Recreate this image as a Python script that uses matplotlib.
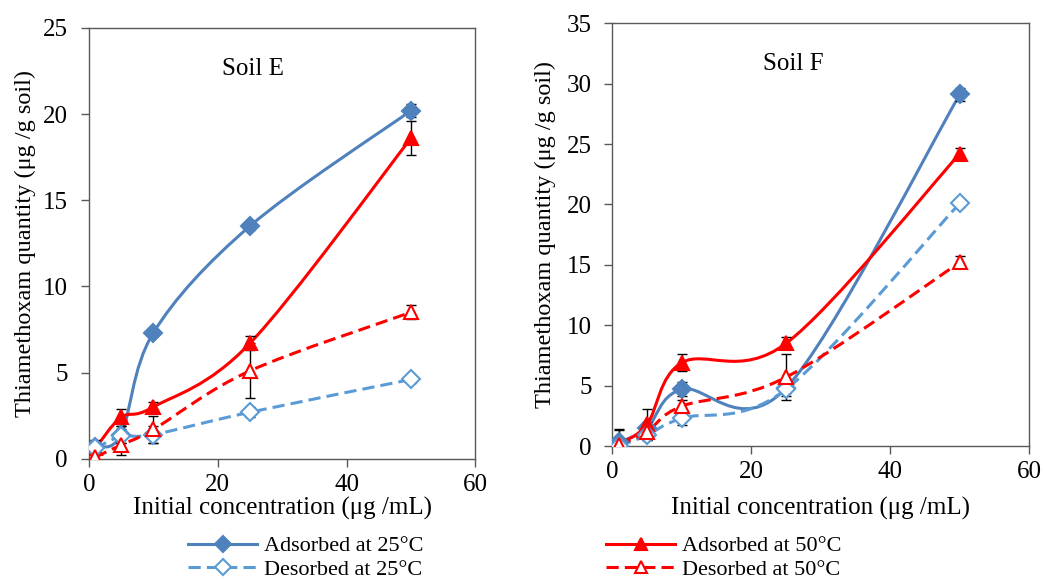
import numpy as np
import matplotlib
matplotlib.use("Agg")
import matplotlib.pyplot as plt
from matplotlib.path import Path
from matplotlib.patches import PathPatch
from matplotlib.lines import Line2D

plt.rcParams['font.family'] = ['Liberation Serif', 'DejaVu Serif']

# ---------------- data ----------------
conc = [1, 5, 10, 25, 50]

# Soil E
e_ads25 = [0.7, 1.4, 7.3, 13.5, 20.2]
e_ads25_err = [0.4, 0.5, 0.15, 0.2, 0.4]
e_ads50 = [0.6, 2.4, 3.0, 6.7, 18.6]
e_ads50_err = [0.4, 0.5, 0.3, 0.4, 1.0]
e_des25 = [0.6, 1.3, 1.4, 2.7, 4.6]
e_des25_err = [0.3, 0.4, 0.5, 0.3, 0.2]
e_des50 = [0.1, 0.8, 1.7, 5.1, 8.5]
e_des50_err = [0.3, 0.6, 0.8, 1.6, 0.4]

# Soil F
f_ads25 = [0.3, 1.5, 4.7, 4.8, 29.1]
f_ads25_err = [1.0, 0.5, 0.6, 0.4, 0.5]
f_ads50 = [0.2, 1.8, 6.9, 8.5, 24.2]
f_ads50_err = [1.2, 1.3, 0.7, 0.5, 0.5]
f_des25 = [0.0, 0.9, 2.3, 4.7, 20.1]
f_des25_err = [0.5, 0.4, 0.6, 0.6, 0.3]
f_des50 = [0.1, 1.2, 3.3, 5.7, 15.2]
f_des50_err = [0.3, 0.5, 0.5, 1.9, 0.5]

labels = ["Adsorbed at 25°C", "Desorbed at 25°C", "Adsorbed at 50°C", "Desorbed at 50°C"]
xticks = [0, 20, 40, 60]

BLUE = '#4F81BD'
BLUE2 = '#5B9BD5'
RED = '#FF0000'
SPINE = '#595959'


def smooth_path(x, y):
    x = np.asarray(x, float)
    y = np.asarray(y, float)
    n = len(x)
    verts = [(x[0], y[0])]
    codes = [Path.MOVETO]
    for i in range(n - 1):
        p0 = np.array([x[max(i - 1, 0)], y[max(i - 1, 0)]])
        p1 = np.array([x[i], y[i]])
        p2 = np.array([x[i + 1], y[i + 1]])
        p3 = np.array([x[min(i + 2, n - 1)], y[min(i + 2, n - 1)]])
        c1 = p1 + (p2 - p0) / 6.0
        c2 = p2 - (p3 - p1) / 6.0
        verts += [tuple(c1), tuple(c2), tuple(p2)]
        codes += [Path.CURVE4] * 3
    return Path(verts, codes)


def series(ax, x, y, err, color, marker, filled, dashed):
    ls = (0, (4, 2)) if dashed else '-'
    patch = PathPatch(smooth_path(x, y), facecolor='none', edgecolor=color,
                      lw=2.2, linestyle=ls, zorder=2)
    ax.add_patch(patch)
    ax.errorbar(x, y, yerr=err, fmt='none', ecolor='black', elinewidth=1.0,
                capsize=3.6, capthick=1.0, zorder=3)
    ms = 9 if marker == 'D' else 10
    ax.plot(x, y, linestyle='none', marker=marker, markersize=ms,
            markerfacecolor=color if filled else 'white',
            markeredgecolor=color, markeredgewidth=1.5, zorder=4)


def style(ax, ymax, ystep, xlab_y):
    ax.set_xlim(0, 60)
    ax.set_ylim(0, ymax)
    ax.set_xticks(xticks)
    ax.set_yticks(np.arange(0, ymax + 0.1, ystep))
    for s in ax.spines.values():
        s.set_color(SPINE)
        s.set_linewidth(1.0)
    ax.tick_params(direction='out', length=6, width=1, color=SPINE,
                   labelsize=18)
    ax.tick_params(axis='x', pad=5)
    ax.tick_params(axis='y', pad=9)
    ax.set_xlabel("Initial concentration (μg /mL)", fontsize=18)
    ax.xaxis.set_label_coords(0.5, xlab_y)
    ax.set_ylabel("Thiamethoxam quantity (μg /g soil)", fontsize=17.5)
    ax.yaxis.label.set_va('center')


fig = plt.figure(figsize=(10.45, 5.8), dpi=100)
axE = fig.add_axes([0.085, 0.209, 0.370, 0.743])
axF = fig.add_axes([0.586, 0.231, 0.399, 0.729])

series(axE, conc, e_ads25, e_ads25_err, BLUE, 'D', True, False)
series(axE, conc, e_ads50, e_ads50_err, RED, '^', True, False)
series(axE, conc, e_des25, e_des25_err, BLUE2, 'D', False, True)
series(axE, conc, e_des50, e_des50_err, RED, '^', False, True)
style(axE, 25, 5, -0.088)
axE.yaxis.set_label_coords(-0.165, 0.5)
axE.text(25.5, 22.6, "Soil E", fontsize=18, ha='center', va='center')

series(axF, conc, f_ads25, f_ads25_err, BLUE, 'D', True, False)
series(axF, conc, f_ads50, f_ads50_err, RED, '^', True, False)
series(axF, conc, f_des25, f_des25_err, BLUE2, 'D', False, True)
series(axF, conc, f_des50, f_des50_err, RED, '^', False, True)
style(axF, 35, 5, -0.120)
axF.yaxis.set_label_coords(-0.161, 0.5)
axF.text(26, 31.6, "Soil F", fontsize=18, ha='center', va='center')


def handle(color, marker, filled, dashed):
    return Line2D([], [], color=color, lw=2.2,
                  linestyle=(0, (4, 2)) if dashed else '-',
                  marker=marker, markersize=8 if marker == 'D' else 9,
                  markerfacecolor=color if filled else 'white',
                  markeredgecolor=color, markeredgewidth=1.5)


h = [handle(BLUE, 'D', True, False), handle(BLUE2, 'D', False, True),
     handle(RED, '^', True, False), handle(RED, '^', False, True)]

leg_kw = dict(frameon=False, fontsize=16, handlelength=3.1, handletextpad=0.3,
              labelspacing=0.12, numpoints=1, borderpad=0, borderaxespad=0)
fig.legend(h[:2], labels[:2], loc='upper left', bbox_to_anchor=(0.180, 0.076),
           **leg_kw)
fig.legend(h[2:], labels[2:], loc='upper left', bbox_to_anchor=(0.580, 0.076),
           **leg_kw)

fig.savefig("out.png", dpi=100)
